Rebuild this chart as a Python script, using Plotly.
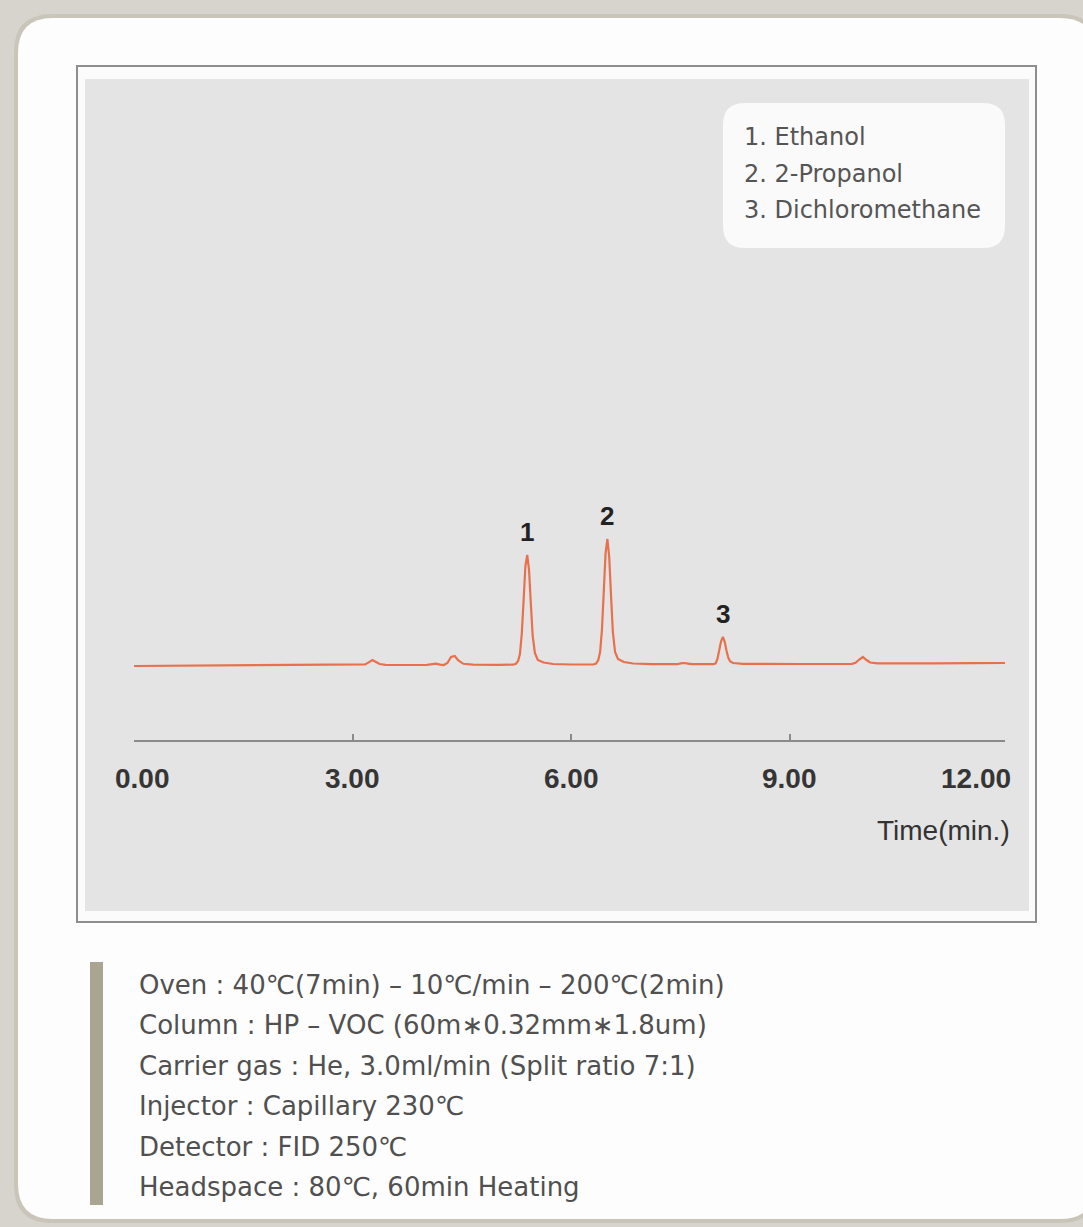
import plotly.graph_objects as go

W, H = 1083, 1227

# ---------------- data ----------------
time_min = [0.00, 0.60, 1.20, 1.80, 2.40, 3.00, 3.12, 3.17, 3.22, 3.27, 3.32, 3.37, 3.45, 3.60,
            3.80, 4.02, 4.08, 4.14, 4.20, 4.25, 4.30, 4.35, 4.40, 4.45, 4.52, 4.65, 5.00,
            5.20, 5.24, 5.27, 5.295, 5.32, 5.345, 5.37, 5.395, 5.42, 5.445, 5.47, 5.50, 5.54, 5.62, 5.75,
            6.00, 6.30, 6.34, 6.37, 6.395, 6.42, 6.445, 6.47, 6.495, 6.52, 6.545, 6.57, 6.60, 6.64, 6.72, 6.85,
            7.10, 7.45, 7.50, 7.55, 7.60, 7.65, 7.95, 7.98, 8.005, 8.03, 8.055, 8.08, 8.105, 8.13, 8.155,
            8.18, 8.22, 8.35, 8.80, 9.00, 9.08, 9.14, 9.85, 9.90, 9.95, 10.00, 10.05, 10.10, 10.20,
            10.40, 11.00, 11.50, 11.95]
signal = [0.0, 0.2, 0.3, 0.5, 0.6, 0.8, 1.0, 1.6, 3.6, 6.0, 4.0, 2.0, 1.2, 1.0,
          1.0, 1.2, 2.0, 2.4, 1.4, 1.0, 3.0, 9.0, 10.0, 5.5, 2.2, 1.3, 1.2,
          1.3, 2.2, 5.0, 12.0, 32.0, 65.0, 100.0, 111.0, 96.0, 62.0, 30.0, 13.0, 6.0, 3.5, 2.0,
          1.5, 1.5, 2.5, 6.0, 14.0, 36.0, 74.0, 113.0, 127.0, 109.0, 70.0, 34.0, 14.0, 7.0, 4.0, 2.5,
          1.8, 1.8, 2.6, 3.0, 2.4, 1.8, 1.8, 2.6, 7.0, 16.0, 25.0, 29.0, 24.0, 15.0, 8.0,
          4.5, 3.0, 2.2, 2.0, 2.0, 1.4, 2.0, 2.2, 3.2, 6.5, 9.0, 6.0, 3.5, 2.6,
          2.5, 2.6, 2.8, 3.0]

peak_labels = ["1", "2", "3"]
peak_times = [5.395, 6.495, 8.08]
peak_heights = [111.0, 127.0, 29.0]

tick_values = [0, 3, 6, 9, 12]
tick_labels = ["0.00", "3.00", "6.00", "9.00", "12.00"]
x_title = "Time(min.)"

legend_items = ["1. Ethanol", "2. 2-Propanol", "3. Dichloromethane"]

conditions = [
    "Oven : 40℃(7min) – 10℃/min – 200℃(2min)",
    "Column : HP – VOC (60m∗0.32mm∗1.8um)",
    "Carrier gas : He, 3.0ml/min (Split ratio 7:1)",
    "Injector : Capillary 230℃",
    "Detector : FID 250℃",
    "Headspace : 80℃, 60min Heating",
]

# ---------------- helpers (pixel -> paper) ----------------
def px(x):
    return x / W

def py(y):
    return 1 - y / H

def rrect(x0, y0, x1, y1, r):
    pts = [
        f"M {px(x0 + r)},{py(y0)}",
        f"L {px(x1 - r)},{py(y0)}",
        f"Q {px(x1)},{py(y0)} {px(x1)},{py(y0 + r)}",
        f"L {px(x1)},{py(y1 - r)}",
        f"Q {px(x1)},{py(y1)} {px(x1 - r)},{py(y1)}",
        f"L {px(x0 + r)},{py(y1)}",
        f"Q {px(x0)},{py(y1)} {px(x0)},{py(y1 - r)}",
        f"L {px(x0)},{py(y0 + r)}",
        f"Q {px(x0)},{py(y0)} {px(x0 + r)},{py(y0)}",
        "Z",
    ]
    return " ".join(pts)

FONT = "Liberation Sans, Arial, sans-serif"
TXT = "DejaVu Sans, Verdana, sans-serif"

fig = go.Figure()

fig.add_trace(go.Scatter(
    x=time_min, y=signal, mode="lines",
    line=dict(color="#e8704c", width=2.2),
    hoverinfo="skip", showlegend=False,
))

shapes = []
# card shadow + card
shapes.append(dict(type="path", xref="paper", yref="paper", layer="below",
                   path=rrect(14, 14, 1098, 1223, 38),
                   fillcolor="#c9c5b8", line=dict(width=0)))
shapes.append(dict(type="path", xref="paper", yref="paper", layer="below",
                   path=rrect(18, 18, 1095, 1219, 35),
                   fillcolor="#fdfdfd", line=dict(width=0)))
# chart frame
shapes.append(dict(type="rect", xref="paper", yref="paper", layer="below",
                   x0=px(77), x1=px(1036), y0=py(922), y1=py(66),
                   fillcolor="#fbfbfb", line=dict(color="#8e8e8e", width=2)))
shapes.append(dict(type="rect", xref="paper", yref="paper", layer="below",
                   x0=px(85), x1=px(1029), y0=py(911), y1=py(79),
                   fillcolor="#e4e4e4", line=dict(width=0)))
# legend box
shapes.append(dict(type="path", xref="paper", yref="paper", layer="below",
                   path=rrect(723, 103, 1005, 248, 22),
                   fillcolor="#fafafa", line=dict(width=0)))
# side bar of conditions
shapes.append(dict(type="rect", xref="paper", yref="paper", layer="below",
                   x0=px(90), x1=px(103), y0=py(1205), y1=py(962),
                   fillcolor="#aaa592", line=dict(width=0)))

annotations = []
# tick labels
for v, lab in zip(tick_values, tick_labels):
    if v == 0:
        ann = dict(x=v, xref="x", xanchor="left", xshift=-21)
    elif v == 12:
        ann = dict(x=px(1013), xref="paper", xanchor="right")
    else:
        ann = dict(x=v, xref="x", xanchor="center")
    ann.update(dict(y=py(778), yref="paper", text=lab, showarrow=False, yanchor="middle",
                    font=dict(family=FONT, size=28, color="#353535", weight="bold")))
    annotations.append(ann)
annotations.append(dict(x=px(1012), y=py(830), xref="paper", yref="paper",
                        text=x_title, showarrow=False, xanchor="right", yanchor="middle",
                        font=dict(family=FONT, size=28, color="#333333")))
# peak labels
for lab, t, h in zip(peak_labels, peak_times, peak_heights):
    annotations.append(dict(x=t, y=h, xref="x", yref="y", text=lab, showarrow=False,
                            xanchor="center", yanchor="bottom", yshift=6,
                            font=dict(family=FONT, size=26, color="#222222", weight="bold")))
# legend lines
for i, item in enumerate(legend_items):
    annotations.append(dict(x=px(742), y=py(137 + 36.5 * i), xref="paper", yref="paper",
                            text=item, showarrow=False, xanchor="left", yanchor="middle",
                            font=dict(family=TXT, size=24, color="#555555")))
# conditions lines
for i, line in enumerate(conditions):
    annotations.append(dict(x=px(137), y=py(985 + 40.4 * i), xref="paper", yref="paper",
                            text=line, showarrow=False, xanchor="left", yanchor="middle",
                            font=dict(family=TXT, size=26, color="#505050")))

fig.update_layout(
    width=W, height=H, autosize=False,
    margin=dict(l=0, r=0, t=0, b=0),
    paper_bgcolor="#d6d4cd",
    plot_bgcolor="rgba(0,0,0,0)",
    shapes=shapes, annotations=annotations,
    xaxis=dict(domain=[px(134), px(1005)], range=[0, 11.95],
               showgrid=False, zeroline=False, showline=True,
               linecolor="#8a8a8a", linewidth=2,
               ticks="inside", ticklen=6, tickwidth=1.5, tickcolor="#8a8a8a",
               tickvals=tick_values[:-1], showticklabels=False, fixedrange=True),
    yaxis=dict(domain=[py(740), py(440)], range=[-74, 226], visible=False,
               fixedrange=True),
    showlegend=False,
)

fig.write_html("out.html",
               config={"displayModeBar": False},
               post_script="document.body.style.margin='0';document.body.style.overflow='hidden';")
